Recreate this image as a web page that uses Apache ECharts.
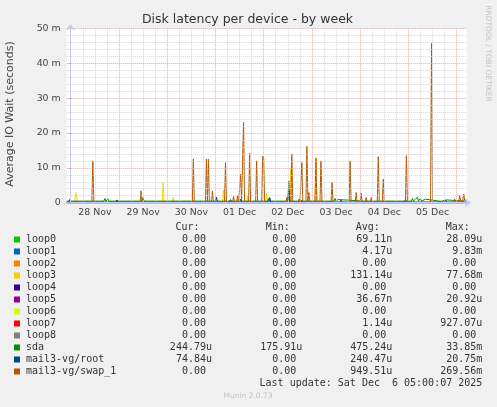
<!DOCTYPE html>
<html>
<head>
<meta charset="utf-8">
<script src="https://cdn.jsdelivr.net/npm/echarts@6/dist/echarts.min.js"></script>
<style>
html,body{margin:0;padding:0;background:#f0f0f0;}
#c{width:497px;height:407px;}
</style>
</head>
<body>
<div id="c"></div>
<script>
// ---- data (x: hours since 28 Nov 00:00, y: milliseconds) ----
var dayLabels = ['28 Nov','29 Nov','30 Nov','01 Dec','02 Dec','03 Dec','04 Dec','05 Dec'];
var dayLabelHours = [12,36,60,84,108,132,156,180];
var yTicks = [0,10,20,30,40,50];

var zeroPts = [[-2,0],[197,0]];

var loop3Pts = [[-2,0],[2,0],[2.5,2.9],[3,1.5],[3.5,0],[45.5,0],[46,5.7],[46.5,0],[50.5,0],[51,1.5],[51.5,0],
  [75.5,0],[76,3.6],[76.5,0],[87.5,0],[88,2],[88.5,0],[97,0],[97.5,2.7],[98,0],
  [109,0],[109.5,10],[110,0],[121.5,0],[122,13],[122.5,0],[197,0]];

var sdaPts = [[-2,0.45],[2.5,0.45],[3,1],[3.5,0.45],[5,0.45],[5.5,0.9],[6,0.45],[16.5,0.45],[17,1.2],[17.5,0.45],
  [18,0.45],[18.5,1.1],[19,0.45],[26.5,0.45],[27,0.8],[27.5,0.45],[35.5,0.45],[36,1.5],[36.5,0.45],
  [46.5,0.45],[47,0.8],[47.5,0.45],[64,0.45],[64.5,0.9],[65,0.45],[75,0.45],[75.5,1],[76,0.45],
  [98,0.45],[98.5,1.2],[99,0.45],[100.5,0.45],[101,1],[101.5,0.45],[104,0.45],[104.5,0.9],[105,0.45],
  [106,0.45],[106.5,1],[107,0.45],[108,0.45],[108.5,6.2],[109,0.45],[112,0.45],[112.5,1],[113,0.45],
  [128.5,0.45],[129,0.9],[129.5,0.45],[131,0.45],[131.5,1.2],[132,0.45],[133,0.9],[133.5,0.45],
  [146,0.45],[146.5,0.8],[147,0.45],[169.5,0.45],[170,1.2],[170.5,0.45],[171.5,1],[172,0.45],
  [172.5,1.6],[173,0.5],[174,1.2],[174.5,0.45],[176.5,1],[177,0.45],[183.5,0.45],[184,0.9],[184.5,0.45],
  [187,0.8],[187.5,0.45],[195.5,0.45],[196,1.1],[196.5,0.45],[197,0.45]];

var rootPts = [[-2,0.2],[-1,0.2],[-0.5,0.9],[0,0.2],[22.5,0.2],[23,0.8],[23.5,0.2],
  [72,0.2],[72.5,1.6],[73,0.2],[79,0.2],[79.5,0.9],[80,0.2],[84,0.2],[84.5,1],[85,0.2],
  [98.5,0.2],[99,1.5],[99.5,0.2],[108,0.2],[108.5,3.6],[109,0.2],[114,0.2],[114.5,0.8],[115,0.2],
  [124,0.2],[124.5,0.7],[125,0.2],[134,0.2],[134.5,0.8],[135,0.2],[166,0.2],[166.5,0.8],[167,0.2],
  [186,0.2],[186.5,0.8],[187,0.2],[197,0.2]];

var swapPts = [[-2,0],[10.5,0],[11,12],[11.5,0],[34.5,0],[35,3.4],[35.5,0],[60.5,0],[61,12.5],[61.5,0],
  [67,0],[67.5,12.5],[68,0],[68.5,12.5],[69,0],[70,0],[70.5,3.4],[71,0],[76.5,0],[77,11.5],[77.5,0],
  [80.5,0],[81,1.8],[81.5,0],[82.5,0],[83,2],[83.5,0],[84,0],[84.5,8.2],[85,0.5],[85.5,0],[86,23],[86.5,0],
  [88.5,0],[89,14.2],[89.5,0],[92,0],[92.5,12],[93,0],[95,0],[95.5,13.4],[96,12.8],[96.5,0],
  [107,0],[107.5,1.5],[108,0],[109.5,0],[110,14],[110.5,0],[113,0],[113.5,1],[114,0],
  [114.5,0],[115,11.5],[115.5,0],[117,0],[117.5,16.2],[118,0.5],[118.5,2.9],[119,0],
  [121.5,0],[122,12.7],[122.5,0],[124,0],[124.5,12],[125,0],[129.5,0],[130,5.9],[130.5,0],
  [138.5,0],[139,12],[139.5,0],[141.5,0],[142,2.9],[142.5,0],[144,0],[144.5,2.7],[145,0],
  [146.5,0],[147,1.5],[147.5,0],[149,0],[149.5,1.5],[150,0],[152.5,0],[153,13.2],[153.5,0],
  [155,0],[155.5,6.8],[156,0],[166.5,0],[167,13.5],[167.5,0],[179,0],[179.5,45.7],[180,0],
  [190.5,0],[191,1],[191.5,0],[193,0],[193.5,2],[194,0.5],[195,0.5],[195.5,2.5],[196,0.8],[197,0.5]];

var seriesNames = ['loop0','loop1','loop2','loop3','loop4','loop5','loop6','loop7','loop8','sda','mail3-vg/root','mail3-vg/swap_1'];
var seriesData = [zeroPts,zeroPts,zeroPts,loop3Pts,zeroPts,zeroPts,zeroPts,zeroPts,zeroPts,sdaPts,rootPts,swapPts];
var curVals = ['0.00','0.00','0.00','0.00','0.00','0.00','0.00','0.00','0.00','244.79u','74.84u','0.00'];
var minVals = ['0.00','0.00','0.00','0.00','0.00','0.00','0.00','0.00','0.00','175.91u','0.00','0.00'];
var avgVals = ['69.11n','4.17u','0.00','131.14u','0.00','36.67n','0.00','1.14u','0.00','475.24u','240.47u','949.51u'];
var maxVals = ['28.09u','9.83m','0.00','77.68m','0.00','20.92u','0.00','927.07u','0.00','33.85m','20.75m','269.56m'];
var lastUpdate = 'Last update: Sat Dec  6 05:00:07 2025';

// ---- styles ----
var colors = ['#00CC00','#0066B3','#FF8000','#FFCC00','#330099','#990099','#CCFF00','#FF0000','#808080','#008F00','#00487D','#B35A00'];
var axisColor = '#c4c8f4';
var majorGrid = '#eaa4a4';
var minorGrid = '#d4d4d4';
var textColor = '#333';

var chart = echarts.init(document.getElementById('c'), null, {renderer:'canvas'});

var vLines = [];
for (var h = 0; h <= 196; h += 6) {
  if (h % 24 !== 0) vLines.push({xAxis: h, lineStyle: {color: minorGrid, type: 'dotted', width: 1}});
}
for (var h2 = 0; h2 <= 196; h2 += 24) {
  vLines.push({xAxis: h2, lineStyle: {color: majorGrid, type: 'dotted', width: 1}});
}

var series = [{
  type: 'line', name: '_grid', data: zeroPts, z: 1, silent: true, symbol: 'none',
  lineStyle: {opacity: 0}, animation: false,
  markLine: {silent: true, symbol: ['none','none'], label: {show: false}, animation: false,
    emphasis: {disabled: true}, data: vLines}
}];
for (var i = 0; i < seriesNames.length; i++) {
  series.push({
    type: 'line', name: seriesNames[i], data: seriesData[i], z: 3,
    symbol: 'none', showSymbol: false, silent: true, animation: false,
    lineStyle: {color: colors[i], width: 1}, emphasis: {disabled: true}
  });
}

// legend table
var graphics = [];
var rowY0 = 239.5, rowStep = 12;
var colEdges = [212, 302.3, 392.3, 482.3];
var headers = ['Cur:','Min:','Avg:','Max:'];
var cols = [curVals, minVals, avgVals, maxVals];
var mono = 'DejaVu Sans Mono';
for (var c = 0; c < 4; c++) {
  graphics.push({type:'text', x: colEdges[c] - 12.5, y: 227.8,
    style:{text: headers[c], font: '10px "' + mono + '"', fill: textColor, textAlign:'right', textVerticalAlign:'middle'}});
}
for (var r = 0; r < seriesNames.length; r++) {
  var yy = rowY0 + r * rowStep;
  graphics.push({type:'rect', shape:{x:14, y:yy-3, width:6, height:6}, style:{fill: colors[r]}});
  graphics.push({type:'text', x: 26, y: yy,
    style:{text: seriesNames[r], font: '10px "' + mono + '"', fill: textColor, textAlign:'left', textVerticalAlign:'middle'}});
  for (var c2 = 0; c2 < 4; c2++) {
    var s = cols[c2][r];
    var hasSuffix = /[a-z]$/i.test(s);
    graphics.push({type:'text', x: colEdges[c2] - (hasSuffix ? 0 : 6), y: yy,
      style:{text: s, font: '10px "' + mono + '"', fill: textColor, textAlign:'right', textVerticalAlign:'middle'}});
  }
}
graphics.push({type:'text', x: 482.3, y: 383.5,
  style:{text: lastUpdate, font: '10px "' + mono + '"', fill: textColor, textAlign:'right', textVerticalAlign:'middle'}});
graphics.push({type:'text', x: 248, y: 396.5,
  style:{text: 'Munin 2.0.73', font: '7.5px "DejaVu Sans"', fill: '#c4c4c4', textAlign:'center', textVerticalAlign:'middle'}});
graphics.push({type:'text', x: 247.5, y: 19.5,
  style:{text: 'Disk latency per device - by week', font: '12.5px "DejaVu Sans"', fill: textColor, textAlign:'center', textVerticalAlign:'middle'}});
graphics.push({type:'text', x: 10.5, y: 114, rotation: Math.PI/2,
  style:{text: 'Average IO Wait (seconds)', font: '11px "DejaVu Sans"', fill: '#444', textAlign:'center', textVerticalAlign:'middle'}});
graphics.push({type:'text', x: 488, y: 53.5, rotation: -Math.PI/2,
  style:{text: 'RRDTOOL / TOBI OETIKER', font: '7.5px "DejaVu Sans"', fill: '#c4c4c4', textAlign:'center', textVerticalAlign:'middle'}});

chart.setOption({
  backgroundColor: '#f0f0f0',
  animation: false,
  grid: {left: 66.7, right: 30.3, top: 28.3, bottom: 204.3, show: true, backgroundColor: '#ffffff', borderWidth: 0, containLabel: false},
  xAxis: {
    type: 'value', min: -2, max: 197, z: 6,
    axisLine: {show: true, onZero: false, lineStyle: {color: axisColor, width: 1}, symbol: ['none','arrow'], symbolSize: [7,6], symbolOffset: [0,4]},
    axisTick: {show: false},
    splitLine: {show: false},
    axisLabel: {
      customValues: dayLabelHours,
      formatter: function (v) { var k = dayLabelHours.indexOf(v); return k >= 0 ? dayLabels[k] : ''; },
      color: '#444', fontFamily: 'DejaVu Sans', fontSize: 9.4, margin: 5
    }
  },
  yAxis: {
    type: 'value', min: 0, max: 50, interval: 10, z: 6,
    axisLine: {show: true, lineStyle: {color: axisColor, width: 1}, symbol: ['none','arrow'], symbolSize: [7,6], symbolOffset: [0,4]},
    axisTick: {show: true, length: 2, lineStyle: {color: '#aaa'}},
    axisLabel: {formatter: function (v) { return v === 0 ? '0' : v + ' m'; }, color: '#444', fontFamily: 'DejaVu Sans', fontSize: 9.4, margin: 6},
    splitLine: {show: true, lineStyle: {color: majorGrid, type: 'dotted', width: 1}},
    minorTick: {show: false, splitNumber: 5},
    minorSplitLine: {show: true, lineStyle: {color: minorGrid, type: 'dotted', width: 1}}
  },
  series: series,
  graphic: graphics
});
</script>
</body>
</html>
